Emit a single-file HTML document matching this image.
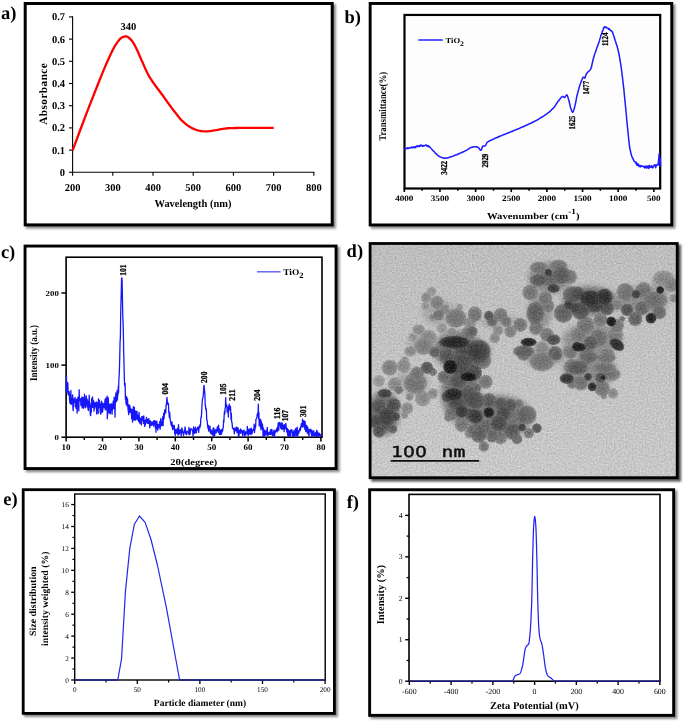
<!DOCTYPE html>
<html><head><meta charset="utf-8"><title>TiO2 characterization</title>
<style>html,body{margin:0;padding:0;background:#fff;overflow:hidden}svg{display:block}</style>
</head><body>
<svg width="685" height="724" viewBox="0 0 685 724" font-family="'Liberation Serif', serif" text-rendering="geometricPrecision">
<defs>
<filter id="sh" x="-5%" y="-5%" width="112%" height="112%"><feGaussianBlur stdDeviation="1.3"/></filter>
<filter id="soft" x="-2%" y="-2%" width="104%" height="104%"><feGaussianBlur stdDeviation="0.35"/></filter>
<filter id="gb" x="0" y="0" width="685" height="724" filterUnits="userSpaceOnUse"><feGaussianBlur stdDeviation="0.32"/></filter>
<linearGradient id="tembg" x1="0" y1="0" x2="0" y2="1"><stop offset="0" stop-color="#bdbdbd"/><stop offset="1" stop-color="#c8c8c8"/></linearGradient>
<filter id="grain" x="0" y="0" width="100%" height="100%" color-interpolation-filters="sRGB"><feTurbulence type="fractalNoise" baseFrequency="0.62" numOctaves="3" seed="11" result="t"/><feColorMatrix in="t" type="matrix" values="1 0 0 0 0  1 0 0 0 0  1 0 0 0 0  0 0 0 0 1" result="g"/><feComposite in="SourceGraphic" in2="g" operator="arithmetic" k1="0" k2="1" k3="0.24" k4="-0.12"/></filter>
<filter id="bl" x="-5%" y="-5%" width="110%" height="110%"><feGaussianBlur stdDeviation="0.6"/></filter>
<clipPath id="cd"><rect x="369.7" y="243.1" width="307.9" height="235"/></clipPath>
<filter id="bl2" x="-5%" y="-5%" width="110%" height="110%"><feGaussianBlur stdDeviation="2.6"/></filter>
<radialGradient id="g150"><stop offset="0" stop-color="#909090"/><stop offset="0.6" stop-color="#969696" stop-opacity="0.96"/><stop offset="0.86" stop-color="#a0a0a0" stop-opacity="0.85"/><stop offset="1" stop-color="#afafaf" stop-opacity="0.25"/></radialGradient>
<radialGradient id="g140"><stop offset="0" stop-color="#868686"/><stop offset="0.6" stop-color="#8c8c8c" stop-opacity="0.96"/><stop offset="0.86" stop-color="#969696" stop-opacity="0.85"/><stop offset="1" stop-color="#a5a5a5" stop-opacity="0.25"/></radialGradient>
<radialGradient id="g130"><stop offset="0" stop-color="#7c7c7c"/><stop offset="0.6" stop-color="#828282" stop-opacity="0.96"/><stop offset="0.86" stop-color="#8c8c8c" stop-opacity="0.85"/><stop offset="1" stop-color="#9b9b9b" stop-opacity="0.25"/></radialGradient>
<radialGradient id="g120"><stop offset="0" stop-color="#727272"/><stop offset="0.6" stop-color="#787878" stop-opacity="0.96"/><stop offset="0.86" stop-color="#828282" stop-opacity="0.85"/><stop offset="1" stop-color="#919191" stop-opacity="0.25"/></radialGradient>
<radialGradient id="g110"><stop offset="0" stop-color="#686868"/><stop offset="0.6" stop-color="#6e6e6e" stop-opacity="0.96"/><stop offset="0.86" stop-color="#787878" stop-opacity="0.85"/><stop offset="1" stop-color="#878787" stop-opacity="0.25"/></radialGradient>
<radialGradient id="g100"><stop offset="0" stop-color="#5e5e5e"/><stop offset="0.6" stop-color="#646464" stop-opacity="0.96"/><stop offset="0.86" stop-color="#6e6e6e" stop-opacity="0.85"/><stop offset="1" stop-color="#7d7d7d" stop-opacity="0.25"/></radialGradient>
<radialGradient id="g90"><stop offset="0" stop-color="#545454"/><stop offset="0.6" stop-color="#5a5a5a" stop-opacity="0.96"/><stop offset="0.86" stop-color="#646464" stop-opacity="0.85"/><stop offset="1" stop-color="#737373" stop-opacity="0.25"/></radialGradient>
<radialGradient id="g80"><stop offset="0" stop-color="#4a4a4a"/><stop offset="0.6" stop-color="#505050" stop-opacity="0.96"/><stop offset="0.86" stop-color="#5a5a5a" stop-opacity="0.85"/><stop offset="1" stop-color="#696969" stop-opacity="0.25"/></radialGradient>
<radialGradient id="g70"><stop offset="0" stop-color="#404040"/><stop offset="0.6" stop-color="#464646" stop-opacity="0.96"/><stop offset="0.86" stop-color="#505050" stop-opacity="0.85"/><stop offset="1" stop-color="#5f5f5f" stop-opacity="0.25"/></radialGradient>
<radialGradient id="g60"><stop offset="0" stop-color="#363636"/><stop offset="0.6" stop-color="#3c3c3c" stop-opacity="0.96"/><stop offset="0.86" stop-color="#464646" stop-opacity="0.85"/><stop offset="1" stop-color="#555555" stop-opacity="0.25"/></radialGradient>
<radialGradient id="g50"><stop offset="0" stop-color="#2c2c2c"/><stop offset="0.6" stop-color="#323232" stop-opacity="0.96"/><stop offset="0.86" stop-color="#3c3c3c" stop-opacity="0.85"/><stop offset="1" stop-color="#4b4b4b" stop-opacity="0.25"/></radialGradient>
<radialGradient id="g40"><stop offset="0" stop-color="#222222"/><stop offset="0.6" stop-color="#282828" stop-opacity="0.96"/><stop offset="0.86" stop-color="#323232" stop-opacity="0.85"/><stop offset="1" stop-color="#414141" stop-opacity="0.25"/></radialGradient>
<radialGradient id="g30"><stop offset="0" stop-color="#181818"/><stop offset="0.6" stop-color="#1e1e1e" stop-opacity="0.96"/><stop offset="0.86" stop-color="#282828" stop-opacity="0.85"/><stop offset="1" stop-color="#373737" stop-opacity="0.25"/></radialGradient>
</defs>
<rect width="685" height="724" fill="#fff"/>
<g filter="url(#gb)">
<rect x="25.9" y="4.2" width="310" height="224.4" fill="#8a8a8a" filter="url(#sh)"/>
<rect x="25.2" y="3.5" width="307" height="221.4" fill="#fff" stroke="#000" stroke-width="3"/>
<text x="1.1" y="18.7" font-size="18.5" font-weight="bold">a)</text>
<line x1="72.6" y1="16.3" x2="72.6" y2="172.8" stroke="#000" stroke-width="1.1"/>
<line x1="72.1" y1="172.3" x2="314.3" y2="172.3" stroke="#000" stroke-width="1.1"/>
<line x1="69" y1="172.3" x2="72.6" y2="172.3" stroke="#000" stroke-width="1.1"/>
<text x="65" y="175.8" font-size="10.5" text-anchor="end" font-weight="bold">0</text>
<line x1="69" y1="150.1" x2="72.6" y2="150.1" stroke="#000" stroke-width="1.1"/>
<text x="65" y="153.6" font-size="10.5" text-anchor="end" font-weight="bold">0.1</text>
<line x1="69" y1="127.9" x2="72.6" y2="127.9" stroke="#000" stroke-width="1.1"/>
<text x="65" y="131.4" font-size="10.5" text-anchor="end" font-weight="bold">0.2</text>
<line x1="69" y1="105.7" x2="72.6" y2="105.7" stroke="#000" stroke-width="1.1"/>
<text x="65" y="109.2" font-size="10.5" text-anchor="end" font-weight="bold">0.3</text>
<line x1="69" y1="83.5" x2="72.6" y2="83.5" stroke="#000" stroke-width="1.1"/>
<text x="65" y="87" font-size="10.5" text-anchor="end" font-weight="bold">0.4</text>
<line x1="69" y1="61.3" x2="72.6" y2="61.3" stroke="#000" stroke-width="1.1"/>
<text x="65" y="64.8" font-size="10.5" text-anchor="end" font-weight="bold">0.5</text>
<line x1="69" y1="39.1" x2="72.6" y2="39.1" stroke="#000" stroke-width="1.1"/>
<text x="65" y="42.6" font-size="10.5" text-anchor="end" font-weight="bold">0.6</text>
<line x1="69" y1="16.9" x2="72.6" y2="16.9" stroke="#000" stroke-width="1.1"/>
<text x="65" y="20.4" font-size="10.5" text-anchor="end" font-weight="bold">0.7</text>
<line x1="72.6" y1="172.3" x2="72.6" y2="175.7" stroke="#000" stroke-width="1.1"/>
<text x="72.6" y="190.7" font-size="10.5" text-anchor="middle" font-weight="bold">200</text>
<line x1="112.8" y1="172.3" x2="112.8" y2="175.7" stroke="#000" stroke-width="1.1"/>
<text x="112.8" y="190.7" font-size="10.5" text-anchor="middle" font-weight="bold">300</text>
<line x1="153" y1="172.3" x2="153" y2="175.7" stroke="#000" stroke-width="1.1"/>
<text x="153" y="190.7" font-size="10.5" text-anchor="middle" font-weight="bold">400</text>
<line x1="193.2" y1="172.3" x2="193.2" y2="175.7" stroke="#000" stroke-width="1.1"/>
<text x="193.2" y="190.7" font-size="10.5" text-anchor="middle" font-weight="bold">500</text>
<line x1="233.4" y1="172.3" x2="233.4" y2="175.7" stroke="#000" stroke-width="1.1"/>
<text x="233.4" y="190.7" font-size="10.5" text-anchor="middle" font-weight="bold">600</text>
<line x1="273.6" y1="172.3" x2="273.6" y2="175.7" stroke="#000" stroke-width="1.1"/>
<text x="273.6" y="190.7" font-size="10.5" text-anchor="middle" font-weight="bold">700</text>
<line x1="313.8" y1="172.3" x2="313.8" y2="175.7" stroke="#000" stroke-width="1.1"/>
<text x="313.8" y="190.7" font-size="10.5" text-anchor="middle" font-weight="bold">800</text>
<text x="193" y="207" font-size="10.8" text-anchor="middle" font-weight="bold" textLength="77" lengthAdjust="spacingAndGlyphs">Wavelength (nm)</text>
<text x="47.4" y="94" font-size="11.2" text-anchor="middle" font-weight="bold" textLength="61.5" lengthAdjust="spacing" transform="rotate(-90 47.4 94)">Absorbance</text>
<text x="128.4" y="29.8" font-size="10.5" text-anchor="middle" font-weight="bold">340</text>
<path d="M72.7 150.3 L74.39 145.69 L76.08 141.11 L77.77 136.55 L79.46 132.02 L81.15 127.52 L82.83 123.05 L84.52 118.61 L86.21 114.2 L87.9 109.81 L89.59 105.45 L91.28 101.11 L92.97 96.81 L94.66 92.53 L96.35 88.28 L98.04 84.05 L99.73 79.79 L101.41 75.55 L103.1 71.37 L104.79 67.33 L106.48 63.48 L108.17 59.75 L109.86 56 L111.55 52.38 L113.24 48.98 L114.93 45.95 L116.62 43.4 L118.31 41.06 L119.99 39 L121.68 37.56 L123.37 36.84 L125.06 36.38 L126.75 36.42 L128.44 37.37 L130.13 38.87 L131.82 40.64 L133.51 43.18 L135.2 46.17 L136.88 49.42 L138.57 53.19 L140.26 57.18 L141.95 61.07 L143.64 64.85 L145.33 68.67 L147.02 72.31 L148.71 75.58 L150.4 78.4 L152.09 80.98 L153.78 83.43 L155.46 85.76 L157.15 88.01 L158.84 90.22 L160.53 92.46 L162.22 94.76 L163.91 97.12 L165.6 99.49 L167.29 101.87 L168.98 104.24 L170.67 106.56 L172.36 108.82 L174.04 111 L175.73 113.15 L177.42 115.32 L179.11 117.43 L180.8 119.42 L182.49 121.2 L184.18 122.72 L185.87 124.09 L187.56 125.37 L189.25 126.54 L190.94 127.57 L192.62 128.43 L194.31 129.12 L196 129.75 L197.69 130.31 L199.38 130.75 L201.07 131.05 L202.76 131.22 L204.45 131.34 L206.14 131.4 L207.83 131.34 L209.52 131.16 L211.2 130.9 L212.89 130.6 L214.58 130.3 L216.27 130.05 L217.96 129.77 L219.65 129.47 L221.34 129.16 L223.03 128.86 L224.72 128.59 L226.41 128.38 L228.09 128.23 L229.78 128.17 L231.47 128.11 L233.16 128.07 L234.85 128.02 L236.54 127.99 L238.23 127.96 L239.92 127.93 L241.61 127.91 L243.3 127.9 L244.99 127.9 L246.67 127.9 L248.36 127.9 L250.05 127.9 L251.74 127.9 L253.43 127.9 L255.12 127.9 L256.81 127.9 L258.5 127.9 L260.19 127.9 L261.88 127.9 L263.57 127.9 L265.25 127.9 L266.94 127.9 L268.63 127.9 L270.32 127.9 L272.01 127.9 L273.7 127.9" fill="none" stroke="#ff0000" stroke-width="2.3" stroke-linejoin="round" stroke-linecap="butt"/>
<rect x="370.9" y="4.2" width="304.5" height="224.4" fill="#8a8a8a" filter="url(#sh)"/>
<rect x="370.15" y="3.45" width="301.6" height="221.5" fill="#fff" stroke="#000" stroke-width="2.9"/>
<text x="344.4" y="22.7" font-size="18.5" font-weight="bold">b)</text>
<rect x="404.5" y="14.95" width="255.7" height="173.55" fill="#fdfdfd" stroke="#000" stroke-width="2.2"/>
<line x1="404.3" y1="188.5" x2="404.3" y2="192" stroke="#000" stroke-width="1.6"/>
<text x="404.3" y="200.6" font-size="8.2" text-anchor="middle" font-weight="bold" textLength="18.3" lengthAdjust="spacingAndGlyphs">4000</text>
<line x1="422.12" y1="188.5" x2="422.12" y2="190.8" stroke="#000" stroke-width="1.5"/>
<line x1="439.95" y1="188.5" x2="439.95" y2="192" stroke="#000" stroke-width="1.6"/>
<text x="439.95" y="200.6" font-size="8.2" text-anchor="middle" font-weight="bold" textLength="18.3" lengthAdjust="spacingAndGlyphs">3500</text>
<line x1="457.77" y1="188.5" x2="457.77" y2="190.8" stroke="#000" stroke-width="1.5"/>
<line x1="475.6" y1="188.5" x2="475.6" y2="192" stroke="#000" stroke-width="1.6"/>
<text x="475.6" y="200.6" font-size="8.2" text-anchor="middle" font-weight="bold" textLength="18.3" lengthAdjust="spacingAndGlyphs">3000</text>
<line x1="493.43" y1="188.5" x2="493.43" y2="190.8" stroke="#000" stroke-width="1.5"/>
<line x1="511.25" y1="188.5" x2="511.25" y2="192" stroke="#000" stroke-width="1.6"/>
<text x="511.25" y="200.6" font-size="8.2" text-anchor="middle" font-weight="bold" textLength="18.3" lengthAdjust="spacingAndGlyphs">2500</text>
<line x1="529.08" y1="188.5" x2="529.08" y2="190.8" stroke="#000" stroke-width="1.5"/>
<line x1="546.9" y1="188.5" x2="546.9" y2="192" stroke="#000" stroke-width="1.6"/>
<text x="546.9" y="200.6" font-size="8.2" text-anchor="middle" font-weight="bold" textLength="18.3" lengthAdjust="spacingAndGlyphs">2000</text>
<line x1="564.73" y1="188.5" x2="564.73" y2="190.8" stroke="#000" stroke-width="1.5"/>
<line x1="582.55" y1="188.5" x2="582.55" y2="192" stroke="#000" stroke-width="1.6"/>
<text x="582.55" y="200.6" font-size="8.2" text-anchor="middle" font-weight="bold" textLength="18.3" lengthAdjust="spacingAndGlyphs">1500</text>
<line x1="600.38" y1="188.5" x2="600.38" y2="190.8" stroke="#000" stroke-width="1.5"/>
<line x1="618.2" y1="188.5" x2="618.2" y2="192" stroke="#000" stroke-width="1.6"/>
<text x="618.2" y="200.6" font-size="8.2" text-anchor="middle" font-weight="bold" textLength="18.3" lengthAdjust="spacingAndGlyphs">1000</text>
<line x1="636.03" y1="188.5" x2="636.03" y2="190.8" stroke="#000" stroke-width="1.5"/>
<line x1="653.85" y1="188.5" x2="653.85" y2="192" stroke="#000" stroke-width="1.6"/>
<text x="653.85" y="200.6" font-size="8.2" text-anchor="middle" font-weight="bold" textLength="13.6" lengthAdjust="spacingAndGlyphs">500</text>
<text x="385.6" y="106.3" font-size="10.2" text-anchor="middle" font-weight="bold" textLength="69" lengthAdjust="spacingAndGlyphs" transform="rotate(-90 385.6 106.3)">Transmittance(%)</text>
<text x="487" y="218.6" font-size="9" font-weight="bold" textLength="92.5" lengthAdjust="spacingAndGlyphs">Wavenumber (cm<tspan dy="-4.2" font-size="7.8">-1</tspan><tspan dy="4.2">)</tspan></text>
<line x1="418.4" y1="40" x2="442.8" y2="40" stroke="#3c3cff" stroke-width="1.7"/>
<text x="445.5" y="42.9" font-size="7.7" font-weight="bold" textLength="18.5" lengthAdjust="spacingAndGlyphs">TiO<tspan dy="3" font-size="7">2</tspan></text>
<path d="M404.2 149.49 L404.69 148.65 L405.18 148.74 L405.67 148.79 L406.16 148.28 L406.65 148.47 L407.14 148.39 L407.62 147.69 L408.11 148.57 L408.6 148.34 L409.09 147.83 L409.58 147.9 L410.07 148.05 L410.56 147.7 L411.05 147.62 L411.54 147.12 L412.03 147.73 L412.52 147.5 L413.01 147.47 L413.49 146.75 L413.98 147.78 L414.47 147.17 L414.96 146.88 L415.45 147.63 L415.94 146.8 L416.43 146.2 L416.92 146.45 L417.41 145.68 L417.9 146.74 L418.39 146.12 L418.88 145.9 L419.37 146.44 L419.85 145.39 L420.34 146.07 L420.83 145.08 L421.32 145.51 L421.81 145.26 L422.3 146.15 L422.79 146.23 L423.28 145.49 L423.77 145.89 L424.26 145.54 L424.75 145.8 L425.24 145.34 L425.73 145 L426.21 144.97 L426.7 145.73 L427.19 146.39 L427.68 145.7 L428.17 145.53 L428.66 146.63 L429.15 146.41 L429.64 146.83 L430.13 147.36 L430.62 147.89 L431.11 148.47 L431.6 148.93 L432.08 149.73 L432.57 150.17 L433.06 150.79 L433.55 151.1 L434.04 151.43 L434.53 152.18 L435.02 152.93 L435.51 153.2 L436 153.66 L436.49 154.11 L436.98 154.59 L437.47 155.1 L437.96 155.36 L438.44 155.99 L438.93 156.04 L439.42 156.35 L439.91 156.77 L440.4 157.02 L440.89 157.06 L441.38 157.35 L441.87 157.6 L442.36 157.68 L442.85 157.65 L443.34 158.08 L443.83 158.21 L444.32 158.22 L444.8 158.09 L445.29 158.17 L445.78 158.08 L446.27 158.05 L446.76 158.15 L447.25 158.07 L447.74 157.84 L448.23 157.68 L448.72 157.55 L449.21 157.31 L449.7 157.14 L450.19 156.91 L450.67 156.82 L451.16 156.94 L451.65 156.63 L452.14 156.33 L452.63 156.15 L453.12 155.94 L453.61 155.91 L454.1 155.74 L454.59 155.33 L455.08 155.37 L455.57 155.05 L456.06 155.09 L456.55 154.74 L457.03 154.72 L457.52 154.25 L458.01 154.06 L458.5 153.92 L458.99 153.8 L459.48 153.53 L459.97 153.1 L460.46 153.06 L460.95 152.82 L461.44 152.56 L461.93 152.32 L462.42 152.4 L462.91 151.93 L463.39 151.67 L463.88 151.63 L464.37 151.33 L464.86 151.05 L465.35 150.89 L465.84 150.58 L466.33 150.28 L466.82 150.07 L467.31 149.71 L467.8 149.32 L468.29 149.07 L468.78 148.77 L469.26 148.59 L469.75 148.18 L470.24 147.85 L470.73 147.85 L471.22 147.46 L471.71 147.19 L472.2 147.3 L472.69 147.02 L473.18 147.05 L473.67 146.83 L474.16 146.7 L474.65 146.65 L475.14 146.75 L475.62 146.81 L476.11 146.81 L476.6 146.97 L477.09 146.94 L477.58 147.27 L478.07 147.21 L478.56 147.63 L479.05 148.32 L479.54 149.12 L480.03 149.93 L480.52 150.02 L481.01 150.28 L481.5 149.42 L481.98 148.02 L482.47 146.54 L482.96 146.13 L483.45 146.18 L483.94 145.7 L484.43 145.89 L484.92 145.89 L485.41 145.55 L485.9 145.12 L486.39 143.68 L486.88 142.73 L487.37 142.26 L487.85 141.97 L488.34 141.58 L488.83 141.38 L489.32 140.87 L489.81 140.7 L490.3 140.6 L490.79 140.33 L491.28 139.9 L491.77 139.94 L492.26 139.6 L492.75 139.49 L493.24 139.26 L493.73 139.14 L494.21 138.77 L494.7 138.3 L495.19 138.13 L495.68 138.16 L496.17 137.82 L496.66 137.77 L497.15 137.46 L497.64 137.12 L498.13 137.13 L498.62 136.7 L499.11 136.35 L499.6 136.64 L500.09 135.96 L500.57 136.07 L501.06 135.91 L501.55 135.62 L502.04 135.2 L502.53 135.33 L503.02 134.84 L503.51 134.66 L504 134.58 L504.49 134.52 L504.98 134.27 L505.47 134.13 L505.96 133.78 L506.44 133.62 L506.93 133.3 L507.42 133.19 L507.91 133.1 L508.4 132.79 L508.89 132.68 L509.38 132.35 L509.87 132.15 L510.36 132.02 L510.85 131.8 L511.34 131.69 L511.83 131.44 L512.32 131.43 L512.8 131 L513.29 130.8 L513.78 130.5 L514.27 130.43 L514.76 130.31 L515.25 129.94 L515.74 129.82 L516.23 129.71 L516.72 129.41 L517.21 129.16 L517.7 129.14 L518.19 128.83 L518.68 128.66 L519.16 128.54 L519.65 128.33 L520.14 127.95 L520.63 127.71 L521.12 127.6 L521.61 127.34 L522.1 126.91 L522.59 127.08 L523.08 126.71 L523.57 126.58 L524.06 126.14 L524.55 126.22 L525.03 125.78 L525.52 125.62 L526.01 125.25 L526.5 125.18 L526.99 124.95 L527.48 124.73 L527.97 124.58 L528.46 124.31 L528.95 124.19 L529.44 123.79 L529.93 123.5 L530.42 123.38 L530.91 123.22 L531.39 123.06 L531.88 122.76 L532.37 122.21 L532.86 122.22 L533.35 122.1 L533.84 121.68 L534.33 121.35 L534.82 121.2 L535.31 120.85 L535.8 120.73 L536.29 120.39 L536.78 120.3 L537.27 119.92 L537.75 119.51 L538.24 119.4 L538.73 119.17 L539.22 118.71 L539.71 118.44 L540.2 117.93 L540.69 118.03 L541.18 117.56 L541.67 117.07 L542.16 116.81 L542.65 116.68 L543.14 116.49 L543.62 116.06 L544.11 115.8 L544.6 115.27 L545.09 114.9 L545.58 114.82 L546.07 114.42 L546.56 114 L547.05 113.79 L547.54 113.15 L548.03 112.83 L548.52 112.62 L549.01 112.32 L549.5 111.69 L549.98 111.47 L550.47 110.76 L550.96 110.43 L551.45 109.91 L551.94 109.27 L552.43 109.01 L552.92 108.59 L553.41 107.95 L553.9 107.43 L554.39 107.05 L554.88 106.1 L555.37 105.37 L555.86 104.72 L556.34 103.87 L556.83 103.39 L557.32 102.5 L557.81 101.63 L558.3 100.99 L558.79 100.82 L559.28 99.78 L559.77 99.12 L560.26 98.61 L560.75 98.05 L561.24 97.47 L561.73 96.89 L562.21 96.54 L562.7 96.59 L563.19 96.59 L563.68 96.84 L564.17 97.58 L564.66 97.51 L565.15 96.89 L565.64 96.16 L566.13 95.51 L566.62 94.96 L567.11 95.05 L567.6 96.31 L568.09 97.64 L568.57 99.47 L569.06 100.97 L569.55 103.23 L570.04 105.44 L570.53 107.74 L571.02 109.06 L571.51 110.34 L572 111.64 L572.49 112.24 L572.98 112 L573.47 110.96 L573.96 109.42 L574.45 107.92 L574.93 105.71 L575.42 103.84 L575.91 101.3 L576.4 98.55 L576.89 95.95 L577.38 94.18 L577.87 92.32 L578.36 90.2 L578.85 88.71 L579.34 86.98 L579.83 85.32 L580.32 84.01 L580.8 82.71 L581.29 81.29 L581.78 80.05 L582.27 78.7 L582.76 77.68 L583.25 77.19 L583.74 77.3 L584.23 77.89 L584.72 78.13 L585.21 77.51 L585.7 75.4 L586.19 74.14 L586.68 73.62 L587.16 72.85 L587.65 72.24 L588.14 71.78 L588.63 71.65 L589.12 70.99 L589.61 70.48 L590.1 69.94 L590.59 69.13 L591.08 68.19 L591.57 66.58 L592.06 64.21 L592.55 62.04 L593.04 59.94 L593.52 58.04 L594.01 56.46 L594.5 54.84 L594.99 53.38 L595.48 52.02 L595.97 50.42 L596.46 49.05 L596.95 47.22 L597.44 46.74 L597.93 45.01 L598.42 43.72 L598.91 42.59 L599.39 40.88 L599.88 38.92 L600.37 37.66 L600.86 35.37 L601.35 34.58 L601.84 33.12 L602.33 31.22 L602.82 30.84 L603.31 28.73 L603.8 28.03 L604.29 26.9 L604.78 27.26 L605.27 27.46 L605.75 26.9 L606.24 26.9 L606.73 27.65 L607.22 28.27 L607.71 28.17 L608.2 28.47 L608.69 29.29 L609.18 28.58 L609.67 29.72 L610.16 29.82 L610.65 30.73 L611.14 30.71 L611.63 31 L612.11 31.79 L612.6 32.25 L613.09 33.97 L613.58 35.18 L614.07 36.83 L614.56 38.23 L615.05 40.25 L615.54 41.35 L616.03 42.94 L616.52 44.49 L617.01 45.97 L617.5 47.89 L617.98 49.75 L618.47 51.79 L618.96 54.01 L619.45 56.55 L619.94 59.47 L620.43 62.61 L620.92 65.39 L621.41 69 L621.9 72.66 L622.39 76.8 L622.88 80.94 L623.37 85.31 L623.86 89.39 L624.34 94.45 L624.83 99.37 L625.32 104.5 L625.81 109.44 L626.3 114.55 L626.79 119.97 L627.28 125.36 L627.77 129.83 L628.26 134.8 L628.75 139.48 L629.24 143.87 L629.73 147.56 L630.22 150.08 L630.7 152.28 L631.19 154.32 L631.68 155.94 L632.17 157.15 L632.66 158.15 L633.15 159.25 L633.64 160.09 L634.13 161.41 L634.62 161.73 L635.11 161.69 L635.6 162.97 L636.09 162.22 L636.57 164.48 L637.06 165.23 L637.55 163.5 L638.04 165.29 L638.53 164.32 L639.02 166.42 L639.51 166.45 L640 165.59 L640.49 166.85 L640.98 165.71 L641.47 165.66 L641.96 165.86 L642.45 166.37 L642.93 166.33 L643.42 166.86 L643.91 166.26 L644.4 167.59 L644.89 167.89 L645.38 166.58 L645.87 165.78 L646.36 167.74 L646.85 168.12 L647.34 166.95 L647.83 165.93 L648.32 167.32 L648.81 168.43 L649.29 165.35 L649.78 167.44 L650.27 166.7 L650.76 166.18 L651.25 167.36 L651.74 165.7 L652.23 167.09 L652.72 167.96 L653.21 166.88 L653.7 165.88 L654.19 165.01 L654.68 165.39 L655.16 164.78 L655.65 167.75 L656.14 165.93 L656.63 165.04 L657.12 164.62 L657.61 164.64 L658.1 165.1 L658.6 160 L659.2 153.7 L659.7 166 L660.2 158 L660.6 166.6" fill="none" stroke="#1a1aff" stroke-width="1.5" stroke-linejoin="round"/>
<text x="446.9" y="174.7" font-size="9" font-weight="bold" textLength="13.7" lengthAdjust="spacingAndGlyphs" transform="rotate(-90 446.9 174.7)" stroke="#000" stroke-width="0.3">3422</text>
<text x="488.2" y="167.4" font-size="9" font-weight="bold" textLength="13.7" lengthAdjust="spacingAndGlyphs" transform="rotate(-90 488.2 167.4)" stroke="#000" stroke-width="0.3">2929</text>
<text x="575.2" y="129.4" font-size="9" font-weight="bold" textLength="13.7" lengthAdjust="spacingAndGlyphs" transform="rotate(-90 575.2 129.4)" stroke="#000" stroke-width="0.3">1625</text>
<text x="589" y="94.6" font-size="9" font-weight="bold" textLength="13.7" lengthAdjust="spacingAndGlyphs" transform="rotate(-90 589 94.6)" stroke="#000" stroke-width="0.3">1477</text>
<text x="608" y="46.1" font-size="9" font-weight="bold" textLength="13.7" lengthAdjust="spacingAndGlyphs" transform="rotate(-90 608 46.1)" stroke="#000" stroke-width="0.3">1124</text>
<rect x="25.8" y="246.8" width="313.9" height="225.4" fill="#8a8a8a" filter="url(#sh)"/>
<rect x="25.05" y="246.05" width="311" height="222.5" fill="#fff" stroke="#000" stroke-width="2.9"/>
<text x="0.9" y="258.1" font-size="18.5" font-weight="bold">c)</text>
<rect x="66.1" y="257.2" width="255.9" height="180" fill="#fff" stroke="#000" stroke-width="1.6"/>
<line x1="66.1" y1="437.2" x2="66.1" y2="441.4" stroke="#000" stroke-width="1.5"/>
<text x="66.1" y="449.8" font-size="8.6" text-anchor="middle" font-weight="bold" textLength="9" lengthAdjust="spacingAndGlyphs">10</text>
<line x1="84.3" y1="437.2" x2="84.3" y2="440" stroke="#000" stroke-width="1.4"/>
<line x1="102.5" y1="437.2" x2="102.5" y2="441.4" stroke="#000" stroke-width="1.5"/>
<text x="102.5" y="449.8" font-size="8.6" text-anchor="middle" font-weight="bold" textLength="9" lengthAdjust="spacingAndGlyphs">20</text>
<line x1="120.7" y1="437.2" x2="120.7" y2="440" stroke="#000" stroke-width="1.4"/>
<line x1="138.9" y1="437.2" x2="138.9" y2="441.4" stroke="#000" stroke-width="1.5"/>
<text x="138.9" y="449.8" font-size="8.6" text-anchor="middle" font-weight="bold" textLength="9" lengthAdjust="spacingAndGlyphs">30</text>
<line x1="157.1" y1="437.2" x2="157.1" y2="440" stroke="#000" stroke-width="1.4"/>
<line x1="175.3" y1="437.2" x2="175.3" y2="441.4" stroke="#000" stroke-width="1.5"/>
<text x="175.3" y="449.8" font-size="8.6" text-anchor="middle" font-weight="bold" textLength="9" lengthAdjust="spacingAndGlyphs">40</text>
<line x1="193.5" y1="437.2" x2="193.5" y2="440" stroke="#000" stroke-width="1.4"/>
<line x1="211.7" y1="437.2" x2="211.7" y2="441.4" stroke="#000" stroke-width="1.5"/>
<text x="211.7" y="449.8" font-size="8.6" text-anchor="middle" font-weight="bold" textLength="9" lengthAdjust="spacingAndGlyphs">50</text>
<line x1="229.9" y1="437.2" x2="229.9" y2="440" stroke="#000" stroke-width="1.4"/>
<line x1="248.1" y1="437.2" x2="248.1" y2="441.4" stroke="#000" stroke-width="1.5"/>
<text x="248.1" y="449.8" font-size="8.6" text-anchor="middle" font-weight="bold" textLength="9" lengthAdjust="spacingAndGlyphs">60</text>
<line x1="266.3" y1="437.2" x2="266.3" y2="440" stroke="#000" stroke-width="1.4"/>
<line x1="284.5" y1="437.2" x2="284.5" y2="441.4" stroke="#000" stroke-width="1.5"/>
<text x="284.5" y="449.8" font-size="8.6" text-anchor="middle" font-weight="bold" textLength="9" lengthAdjust="spacingAndGlyphs">70</text>
<line x1="302.7" y1="437.2" x2="302.7" y2="440" stroke="#000" stroke-width="1.4"/>
<line x1="320.9" y1="437.2" x2="320.9" y2="441.4" stroke="#000" stroke-width="1.5"/>
<text x="320.9" y="449.8" font-size="8.6" text-anchor="middle" font-weight="bold" textLength="9" lengthAdjust="spacingAndGlyphs">80</text>
<line x1="61.4" y1="437.2" x2="66.1" y2="437.2" stroke="#000" stroke-width="1.5"/>
<text x="58.9" y="439.9" font-size="7.7" text-anchor="end" font-weight="bold" textLength="4.4" lengthAdjust="spacingAndGlyphs">0</text>
<line x1="61.4" y1="365.1" x2="66.1" y2="365.1" stroke="#000" stroke-width="1.5"/>
<text x="58.9" y="367.8" font-size="7.7" text-anchor="end" font-weight="bold" textLength="13.3" lengthAdjust="spacingAndGlyphs">100</text>
<line x1="61.4" y1="293" x2="66.1" y2="293" stroke="#000" stroke-width="1.5"/>
<text x="58.9" y="295.7" font-size="7.7" text-anchor="end" font-weight="bold" textLength="13.3" lengthAdjust="spacingAndGlyphs">200</text>
<text x="37.3" y="352.9" font-size="10.2" text-anchor="middle" font-weight="bold" textLength="56" lengthAdjust="spacingAndGlyphs" transform="rotate(-90 37.3 352.9)">Intensity (a.u.)</text>
<text x="193.8" y="464.7" font-size="8.8" text-anchor="middle" font-weight="bold" textLength="47" lengthAdjust="spacingAndGlyphs">2θ(degree)</text>
<line x1="257" y1="271.8" x2="280.6" y2="271.8" stroke="#5c5cff" stroke-width="1.4"/>
<text x="283.2" y="275.2" font-size="8.9" font-weight="bold" textLength="20.3" lengthAdjust="spacingAndGlyphs">TiO<tspan dy="3.1" font-size="8">2</tspan></text>
<path d="M66.1 390.57 L66.4 376.13 L66.69 390.67 L66.99 392.17 L67.29 387.48 L67.58 382.41 L67.88 384.11 L68.18 394.84 L68.47 391.68 L68.77 393.05 L69.07 391.71 L69.36 393.87 L69.66 400.97 L69.96 403.25 L70.25 396.01 L70.55 403.84 L70.85 390.52 L71.14 398.09 L71.44 404.23 L71.74 400.78 L72.03 402.11 L72.33 400.39 L72.63 394.85 L72.92 408.04 L73.22 410.57 L73.52 398.88 L73.81 401.88 L74.11 400.24 L74.41 398.91 L74.7 402.47 L75 397.33 L75.3 406.65 L75.59 401.62 L75.89 406.6 L76.19 408.35 L76.48 399.04 L76.78 399.41 L77.08 413.11 L77.37 408.78 L77.67 401.24 L77.96 397.14 L78.26 406.62 L78.56 404.11 L78.85 410.85 L79.15 389.72 L79.45 400.81 L79.74 398.62 L80.04 399.98 L80.34 398.57 L80.63 400.4 L80.93 405.58 L81.23 399.81 L81.52 403.48 L81.82 396.96 L82.12 408.02 L82.41 407.03 L82.71 400.59 L83.01 397.31 L83.3 403.51 L83.6 408.21 L83.9 405.06 L84.19 407.17 L84.49 394.27 L84.79 399.73 L85.08 397.81 L85.38 403.07 L85.68 407.76 L85.97 398.47 L86.27 395.92 L86.57 401.77 L86.86 405.1 L87.16 399.18 L87.46 407.08 L87.75 400.99 L88.05 409.02 L88.35 410.47 L88.64 402.21 L88.94 403.5 L89.24 395.08 L89.53 406.94 L89.83 405.34 L90.13 411.68 L90.42 415.67 L90.72 415.24 L91.02 403.15 L91.31 412.06 L91.61 399.65 L91.91 398.1 L92.2 407.37 L92.5 396.9 L92.8 404.69 L93.09 399.87 L93.39 407.22 L93.69 400.85 L93.98 411.18 L94.28 402.75 L94.58 408.64 L94.87 406.9 L95.17 402.81 L95.47 405.33 L95.76 406.7 L96.06 402.4 L96.36 402.03 L96.65 413.89 L96.95 403.41 L97.25 402.84 L97.54 410.56 L97.84 404.44 L98.14 413.72 L98.43 398.8 L98.73 407.9 L99.03 407.06 L99.32 400.19 L99.62 407.46 L99.92 403.47 L100.21 412.39 L100.51 409.83 L100.81 414.29 L101.1 407.91 L101.4 401.22 L101.69 405.6 L101.99 402.04 L102.29 412.38 L102.58 411.61 L102.88 409.36 L103.18 403.75 L103.47 404.92 L103.77 406.93 L104.07 403.47 L104.36 407.65 L104.66 406.94 L104.96 399.75 L105.25 409.96 L105.55 405.78 L105.85 398.03 L106.14 406.17 L106.44 402.87 L106.74 409.93 L107.03 396.03 L107.33 418.73 L107.63 412.64 L107.92 412.15 L108.22 397.63 L108.52 404.41 L108.81 407.65 L109.11 413.08 L109.41 404.08 L109.7 405.33 L110 409.58 L110.3 413.77 L110.59 411.53 L110.89 404.26 L111.19 403.57 L111.48 404.67 L111.78 405.69 L112.08 414.22 L112.37 404.15 L112.67 409.74 L112.97 403.65 L113.26 401.05 L113.56 406.88 L113.86 408.38 L114.15 397.06 L114.45 400.09 L114.75 404.94 L115.04 417.17 L115.34 400.61 L115.64 396.28 L115.93 392.88 L116.23 401.8 L116.53 400.7 L116.82 398.59 L117.12 390.5 L117.42 400.02 L117.71 392.65 L118.01 395.04 L118.31 386.02 L118.6 392.54 L118.9 378.3 L119.2 375.75 L119.49 367.18 L119.79 354.87 L120.09 341.06 L120.38 338.49 L120.68 314.08 L120.98 301.6 L121.27 292.63 L121.57 278.36 L121.87 277.86 L122.16 282.38 L122.46 300.05 L122.76 314.78 L123.05 321.62 L123.35 332.25 L123.65 350.69 L123.94 360.51 L124.24 374.41 L124.53 384.52 L124.83 385.74 L125.13 383.37 L125.42 399.14 L125.72 396.52 L126.02 403.88 L126.31 398.02 L126.61 396.63 L126.91 405.89 L127.2 403.95 L127.5 398.53 L127.8 404.82 L128.09 410.04 L128.39 411.17 L128.69 414.57 L128.98 404.84 L129.28 411.21 L129.58 405.1 L129.87 406.37 L130.17 412.64 L130.47 412.66 L130.76 408.25 L131.06 411.06 L131.36 411.04 L131.65 418.63 L131.95 409.47 L132.25 416.48 L132.54 422.05 L132.84 416.19 L133.14 412.6 L133.43 406.62 L133.73 416.16 L134.03 420.02 L134.32 407.34 L134.62 414.95 L134.92 416.77 L135.21 420.05 L135.51 420 L135.81 410.9 L136.1 417.67 L136.4 418.87 L136.7 418.95 L136.99 411.35 L137.29 419.61 L137.59 415.22 L137.88 416.74 L138.18 417.01 L138.48 421.35 L138.77 415.74 L139.07 412.33 L139.37 418.7 L139.66 422.09 L139.96 423.62 L140.26 418.2 L140.55 420.06 L140.85 419.56 L141.15 419.25 L141.44 424.94 L141.74 416.6 L142.04 418.77 L142.33 420.04 L142.63 419 L142.93 416.51 L143.22 419.88 L143.52 423.38 L143.82 415.92 L144.11 422.02 L144.41 423.21 L144.71 426.45 L145 420.66 L145.3 424.71 L145.6 422.83 L145.89 419.29 L146.19 420.94 L146.49 417.35 L146.78 420.11 L147.08 422.86 L147.37 422.67 L147.67 423.42 L147.97 419.19 L148.26 421.62 L148.56 423.33 L148.86 418.71 L149.15 421.6 L149.45 423.8 L149.75 427.81 L150.04 420.59 L150.34 421.43 L150.64 422.22 L150.93 424.13 L151.23 425.71 L151.53 423.53 L151.82 421.91 L152.12 423.34 L152.42 423.5 L152.71 424.81 L153.01 421.88 L153.31 422.37 L153.6 426.16 L153.9 420.58 L154.2 420.56 L154.49 420.58 L154.79 424.22 L155.09 424.55 L155.38 428.27 L155.68 421.2 L155.98 432.13 L156.27 425.69 L156.57 425.59 L156.87 421.2 L157.16 424.51 L157.46 428.21 L157.76 430.03 L158.05 427.5 L158.35 424.44 L158.65 424.7 L158.94 425.7 L159.24 427.57 L159.54 425.81 L159.83 421.29 L160.13 429.12 L160.43 424.8 L160.72 418.75 L161.02 423.13 L161.32 425.67 L161.61 422.29 L161.91 425.76 L162.21 423.17 L162.5 418.31 L162.8 416.62 L163.1 425.6 L163.39 417.97 L163.69 413.36 L163.99 418.87 L164.28 415.21 L164.58 410.21 L164.88 414.03 L165.17 409.72 L165.47 409.4 L165.77 412.85 L166.06 405.1 L166.36 405.23 L166.66 401.17 L166.95 397.34 L167.25 401 L167.55 404.15 L167.84 402.64 L168.14 404.44 L168.44 403.64 L168.73 412.07 L169.03 413.17 L169.33 417.5 L169.62 412.17 L169.92 415.78 L170.22 419.29 L170.51 421.23 L170.81 422.39 L171.1 424.8 L171.4 424.44 L171.7 426.06 L171.99 421.9 L172.29 425.7 L172.59 429.58 L172.88 429.58 L173.18 425.25 L173.48 427.76 L173.77 428.59 L174.07 427.76 L174.37 425.67 L174.66 433.6 L174.96 432.52 L175.26 435.43 L175.55 429.48 L175.85 432.02 L176.15 432.95 L176.44 433.32 L176.74 429.45 L177.04 431.84 L177.33 433 L177.63 428.2 L177.93 434.56 L178.22 435.2 L178.52 424.67 L178.82 432.82 L179.11 433.34 L179.41 433.87 L179.71 432.28 L180 429.79 L180.3 429.9 L180.6 430.5 L180.89 432.77 L181.19 436.11 L181.49 431.27 L181.78 427.9 L182.08 429.15 L182.38 432.56 L182.67 429.91 L182.97 433.18 L183.27 432.28 L183.56 435.53 L183.86 433.02 L184.16 431.78 L184.45 432.63 L184.75 430.07 L185.05 427.02 L185.34 428.56 L185.64 433.03 L185.94 434.2 L186.23 433.98 L186.53 434.87 L186.83 432.1 L187.12 431.04 L187.42 431.69 L187.72 431.66 L188.01 431.75 L188.31 432.54 L188.61 434.21 L188.9 427.44 L189.2 429.29 L189.5 434.64 L189.79 434.62 L190.09 433.73 L190.39 432.02 L190.68 428.65 L190.98 429.3 L191.28 429.14 L191.57 429.06 L191.87 428.99 L192.17 429.97 L192.46 430.72 L192.76 432.26 L193.06 436.12 L193.35 432.22 L193.65 426.88 L193.94 433.26 L194.24 433.44 L194.54 428.89 L194.83 431.39 L195.13 432.86 L195.43 427.21 L195.72 429.68 L196.02 429.22 L196.32 432.74 L196.61 429.71 L196.91 429.9 L197.21 428.64 L197.5 427.43 L197.8 427.26 L198.1 429.58 L198.39 427.79 L198.69 432.35 L198.99 426.85 L199.28 425.99 L199.58 427.97 L199.88 427.83 L200.17 424.39 L200.47 425.76 L200.77 419.36 L201.06 416.98 L201.36 417.54 L201.66 411.64 L201.95 405.42 L202.25 401.88 L202.55 398.47 L202.84 398.31 L203.14 395.96 L203.44 393.99 L203.73 386.73 L204.03 385.39 L204.33 389.16 L204.62 390.82 L204.92 394.37 L205.22 405.84 L205.51 405.53 L205.81 409.72 L206.11 408.52 L206.4 410.47 L206.7 419.75 L207 420.31 L207.29 421.01 L207.59 425.65 L207.89 427.5 L208.18 428.81 L208.48 425.47 L208.78 431.13 L209.07 426.12 L209.37 429.45 L209.67 427.99 L209.96 426.1 L210.26 432.4 L210.56 432.99 L210.85 429.74 L211.15 433.87 L211.45 433.16 L211.74 431.57 L212.04 430.91 L212.34 434.82 L212.63 432.53 L212.93 429.95 L213.23 427.91 L213.52 436.12 L213.82 428.1 L214.12 429.29 L214.41 434.7 L214.71 435.77 L215.01 430.63 L215.3 432.93 L215.6 431.42 L215.9 429.44 L216.19 432.81 L216.49 431.34 L216.78 430.48 L217.08 429.33 L217.38 426.93 L217.67 427.07 L217.97 431.02 L218.27 432.28 L218.56 425.11 L218.86 429.78 L219.16 430.3 L219.45 434.39 L219.75 429.17 L220.05 433.3 L220.34 432.29 L220.64 434.52 L220.94 432.08 L221.23 430.21 L221.53 434.11 L221.83 431.97 L222.12 429.09 L222.42 431.46 L222.72 430.32 L223.01 427.76 L223.31 427.58 L223.61 419.98 L223.9 421.95 L224.2 414.46 L224.5 411.2 L224.79 414.18 L225.09 408.27 L225.39 407.71 L225.68 397.54 L225.98 405.92 L226.28 406.24 L226.57 404.75 L226.87 405.19 L227.17 412.2 L227.46 411.23 L227.76 409.2 L228.06 407.5 L228.35 417.06 L228.65 406.26 L228.95 409.42 L229.24 404.04 L229.54 408.91 L229.84 410.01 L230.13 408.18 L230.43 406.25 L230.73 410.98 L231.02 419.47 L231.32 413.29 L231.62 421.75 L231.91 422.15 L232.21 424.63 L232.51 428.29 L232.8 428.28 L233.1 428.92 L233.4 429.05 L233.69 428.47 L233.99 430.01 L234.29 433.77 L234.58 430.7 L234.88 427.93 L235.18 428.3 L235.47 430.77 L235.77 429.64 L236.07 429.05 L236.36 427.9 L236.66 427.09 L236.96 432.72 L237.25 432.67 L237.55 427.96 L237.85 427.79 L238.14 427.9 L238.44 436.12 L238.74 432.83 L239.03 436.12 L239.33 430.31 L239.63 432.19 L239.92 432.24 L240.22 432.79 L240.51 428.87 L240.81 433.26 L241.11 429.65 L241.4 430.99 L241.7 431.54 L242 431.27 L242.29 432.25 L242.59 435.56 L242.89 430.62 L243.18 430.63 L243.48 432.99 L243.78 430.6 L244.07 430.14 L244.37 436.12 L244.67 433 L244.96 433.83 L245.26 435.09 L245.56 431.73 L245.85 434.91 L246.15 433.79 L246.45 431.92 L246.74 431.62 L247.04 431.69 L247.34 426.43 L247.63 433.92 L247.93 431.83 L248.23 435.8 L248.52 431.15 L248.82 429.28 L249.12 429.08 L249.41 434.11 L249.71 433.09 L250.01 428.82 L250.3 432.47 L250.6 429.52 L250.9 434.72 L251.19 428.17 L251.49 429.01 L251.79 430.4 L252.08 433.67 L252.38 431.67 L252.68 430.52 L252.97 429.84 L253.27 430.39 L253.57 430.15 L253.86 428.36 L254.16 424.27 L254.46 432.68 L254.75 429.88 L255.05 429.17 L255.35 425.52 L255.64 427 L255.94 419.24 L256.24 418.99 L256.53 418.49 L256.83 418.3 L257.13 414.84 L257.42 413.9 L257.72 412.98 L258.02 415.79 L258.31 404.03 L258.61 418.91 L258.91 412.52 L259.2 425.67 L259.5 420.31 L259.8 423.48 L260.09 419.52 L260.39 427.19 L260.69 419.49 L260.98 429.95 L261.28 421.27 L261.58 426.58 L261.87 428.58 L262.17 428.19 L262.47 423.98 L262.76 428.04 L263.06 436.12 L263.35 427.96 L263.65 430.87 L263.95 436.12 L264.24 429.82 L264.54 435.37 L264.84 431.67 L265.13 431.63 L265.43 434.12 L265.73 430.64 L266.02 435.28 L266.32 432.01 L266.62 434.08 L266.91 433.12 L267.21 427.39 L267.51 432.38 L267.8 435.69 L268.1 433.06 L268.4 434.87 L268.69 432.71 L268.99 432.36 L269.29 432.58 L269.58 432.6 L269.88 434.33 L270.18 431.62 L270.47 429.96 L270.77 434.56 L271.07 433.02 L271.36 432.7 L271.66 429.43 L271.96 429.9 L272.25 434.85 L272.55 432.64 L272.85 436.12 L273.14 435.45 L273.44 432.74 L273.74 431.02 L274.03 430.09 L274.33 433.5 L274.63 436.12 L274.92 431.39 L275.22 432.83 L275.52 431.03 L275.81 431.55 L276.11 429.77 L276.41 429.63 L276.7 428.73 L277 431.85 L277.3 427.35 L277.59 430.88 L277.89 428.64 L278.19 423.11 L278.48 426.57 L278.78 430.11 L279.08 422.29 L279.37 423.22 L279.67 422.6 L279.97 425.15 L280.26 424.9 L280.56 426.79 L280.86 428.47 L281.15 422.79 L281.45 428.4 L281.75 429.06 L282.04 429.22 L282.34 423.06 L282.64 425.8 L282.93 429.15 L283.23 428.11 L283.53 426.36 L283.82 425.09 L284.12 431.68 L284.42 424.62 L284.71 427.63 L285.01 429 L285.31 428.44 L285.6 425.57 L285.9 423.39 L286.19 428.33 L286.49 427.76 L286.79 432.06 L287.08 428.99 L287.38 428.55 L287.68 435.29 L287.97 432.98 L288.27 429.71 L288.57 436.12 L288.86 433.36 L289.16 430.85 L289.46 436.12 L289.75 433.82 L290.05 432.66 L290.35 430.43 L290.64 436.12 L290.94 429.92 L291.24 432.15 L291.53 429.73 L291.83 429.84 L292.13 432.11 L292.42 431.72 L292.72 436.12 L293.02 436.12 L293.31 435.82 L293.61 434.02 L293.91 430.51 L294.2 436.12 L294.5 433.92 L294.8 436.12 L295.09 436.12 L295.39 428.95 L295.69 432.7 L295.98 428.46 L296.28 429.65 L296.58 435.37 L296.87 436.12 L297.17 427.03 L297.47 433.71 L297.76 435.61 L298.06 430.42 L298.36 431.74 L298.65 433.7 L298.95 432.51 L299.25 430.76 L299.54 430.56 L299.84 428.18 L300.14 430.63 L300.43 429.93 L300.73 426.61 L301.03 426.59 L301.32 423.59 L301.62 426.39 L301.92 425.09 L302.21 427.16 L302.51 419.15 L302.81 426.48 L303.1 421.72 L303.4 424.57 L303.7 421.31 L303.99 420.55 L304.29 427.64 L304.59 424.45 L304.88 429.52 L305.18 421.74 L305.48 427.69 L305.77 431.67 L306.07 430.1 L306.37 425.35 L306.66 425.56 L306.96 426.77 L307.26 432.94 L307.55 431.67 L307.85 427.16 L308.15 433.96 L308.44 433.14 L308.74 435.06 L309.04 435.81 L309.33 429.46 L309.63 431.16 L309.92 431.75 L310.22 431.47 L310.52 430.33 L310.81 429.04 L311.11 433.25 L311.41 434.21 L311.7 436.11 L312 430.38 L312.3 434.78 L312.59 436.12 L312.89 434.16 L313.19 433.38 L313.48 431.19 L313.78 430.74 L314.08 435.51 L314.37 435.71 L314.67 434.44 L314.97 436.12 L315.26 433.87 L315.56 432.32 L315.86 433.48 L316.15 436.12 L316.45 436.12 L316.75 430.11 L317.04 436.12 L317.34 431.63 L317.64 431.93 L317.93 434.55 L318.23 436.12 L318.53 433.11 L318.82 436.12 L319.12 434.18 L319.42 433.42 L319.71 435.68 L320.01 434.34 L320.31 434.57 L320.6 436.12 L320.9 434.26" fill="none" stroke="#1818f8" stroke-width="1.3" stroke-linejoin="round"/>
<text x="126.3" y="275.8" font-size="9" font-weight="bold" textLength="11.3" lengthAdjust="spacingAndGlyphs" transform="rotate(-90 126.3 275.8)" stroke="#000" stroke-width="0.3">101</text>
<text x="168.2" y="394.4" font-size="9" font-weight="bold" textLength="11.3" lengthAdjust="spacingAndGlyphs" transform="rotate(-90 168.2 394.4)" stroke="#000" stroke-width="0.3">004</text>
<text x="207.3" y="382.9" font-size="9" font-weight="bold" textLength="11.3" lengthAdjust="spacingAndGlyphs" transform="rotate(-90 207.3 382.9)" stroke="#000" stroke-width="0.3">200</text>
<text x="225.6" y="394.7" font-size="9" font-weight="bold" textLength="11.3" lengthAdjust="spacingAndGlyphs" transform="rotate(-90 225.6 394.7)" stroke="#000" stroke-width="0.3">105</text>
<text x="235.1" y="400.7" font-size="9" font-weight="bold" textLength="11.3" lengthAdjust="spacingAndGlyphs" transform="rotate(-90 235.1 400.7)" stroke="#000" stroke-width="0.3">211</text>
<text x="260.1" y="400.7" font-size="9" font-weight="bold" textLength="11.3" lengthAdjust="spacingAndGlyphs" transform="rotate(-90 260.1 400.7)" stroke="#000" stroke-width="0.3">204</text>
<text x="279.5" y="419" font-size="9" font-weight="bold" textLength="11.3" lengthAdjust="spacingAndGlyphs" transform="rotate(-90 279.5 419)" stroke="#000" stroke-width="0.3">116</text>
<text x="288.2" y="421.2" font-size="9" font-weight="bold" textLength="11.3" lengthAdjust="spacingAndGlyphs" transform="rotate(-90 288.2 421.2)" stroke="#000" stroke-width="0.3">107</text>
<text x="306" y="416.9" font-size="9" font-weight="bold" textLength="11.3" lengthAdjust="spacingAndGlyphs" transform="rotate(-90 306 416.9)" stroke="#000" stroke-width="0.3">301</text>
<rect x="24" y="490.5" width="314" height="226.5" fill="#8a8a8a" filter="url(#sh)"/>
<rect x="23.2" y="489.7" width="311.2" height="223.7" fill="#fff" stroke="#000" stroke-width="2.8"/>
<text x="3.3" y="504.6" font-size="18.5" font-weight="bold">e)</text>
<rect x="74.7" y="494" width="250.5" height="186" fill="#fff" stroke="#000" stroke-width="1.4"/>
<line x1="71.2" y1="680" x2="74.7" y2="680" stroke="#000" stroke-width="1.3"/>
<text x="68.8" y="682.5" font-size="7.3" text-anchor="end">0</text>
<line x1="72.4" y1="669.03" x2="74.7" y2="669.03" stroke="#000" stroke-width="1.2"/>
<line x1="71.2" y1="658.07" x2="74.7" y2="658.07" stroke="#000" stroke-width="1.3"/>
<text x="68.8" y="660.57" font-size="7.3" text-anchor="end">2</text>
<line x1="72.4" y1="647.11" x2="74.7" y2="647.11" stroke="#000" stroke-width="1.2"/>
<line x1="71.2" y1="636.14" x2="74.7" y2="636.14" stroke="#000" stroke-width="1.3"/>
<text x="68.8" y="638.64" font-size="7.3" text-anchor="end">4</text>
<line x1="72.4" y1="625.17" x2="74.7" y2="625.17" stroke="#000" stroke-width="1.2"/>
<line x1="71.2" y1="614.21" x2="74.7" y2="614.21" stroke="#000" stroke-width="1.3"/>
<text x="68.8" y="616.71" font-size="7.3" text-anchor="end">6</text>
<line x1="72.4" y1="603.25" x2="74.7" y2="603.25" stroke="#000" stroke-width="1.2"/>
<line x1="71.2" y1="592.28" x2="74.7" y2="592.28" stroke="#000" stroke-width="1.3"/>
<text x="68.8" y="594.78" font-size="7.3" text-anchor="end">8</text>
<line x1="72.4" y1="581.32" x2="74.7" y2="581.32" stroke="#000" stroke-width="1.2"/>
<line x1="71.2" y1="570.35" x2="74.7" y2="570.35" stroke="#000" stroke-width="1.3"/>
<text x="68.8" y="572.85" font-size="7.3" text-anchor="end">10</text>
<line x1="72.4" y1="559.38" x2="74.7" y2="559.38" stroke="#000" stroke-width="1.2"/>
<line x1="71.2" y1="548.42" x2="74.7" y2="548.42" stroke="#000" stroke-width="1.3"/>
<text x="68.8" y="550.92" font-size="7.3" text-anchor="end">12</text>
<line x1="72.4" y1="537.46" x2="74.7" y2="537.46" stroke="#000" stroke-width="1.2"/>
<line x1="71.2" y1="526.49" x2="74.7" y2="526.49" stroke="#000" stroke-width="1.3"/>
<text x="68.8" y="528.99" font-size="7.3" text-anchor="end">14</text>
<line x1="72.4" y1="515.52" x2="74.7" y2="515.52" stroke="#000" stroke-width="1.2"/>
<line x1="71.2" y1="504.56" x2="74.7" y2="504.56" stroke="#000" stroke-width="1.3"/>
<text x="68.8" y="507.06" font-size="7.3" text-anchor="end">16</text>
<line x1="74.7" y1="680" x2="74.7" y2="684" stroke="#000" stroke-width="1.3"/>
<text x="74.7" y="691.9" font-size="7.2" text-anchor="middle">0</text>
<line x1="106" y1="680" x2="106" y2="682.6" stroke="#000" stroke-width="1.2"/>
<line x1="137.3" y1="680" x2="137.3" y2="684" stroke="#000" stroke-width="1.3"/>
<text x="137.3" y="691.9" font-size="7.2" text-anchor="middle">50</text>
<line x1="168.6" y1="680" x2="168.6" y2="682.6" stroke="#000" stroke-width="1.2"/>
<line x1="199.9" y1="680" x2="199.9" y2="684" stroke="#000" stroke-width="1.3"/>
<text x="199.9" y="691.9" font-size="7.2" text-anchor="middle">100</text>
<line x1="231.2" y1="680" x2="231.2" y2="682.6" stroke="#000" stroke-width="1.2"/>
<line x1="262.5" y1="680" x2="262.5" y2="684" stroke="#000" stroke-width="1.3"/>
<text x="262.5" y="691.9" font-size="7.2" text-anchor="middle">150</text>
<line x1="293.8" y1="680" x2="293.8" y2="682.6" stroke="#000" stroke-width="1.2"/>
<line x1="325.1" y1="680" x2="325.1" y2="684" stroke="#000" stroke-width="1.3"/>
<text x="325.1" y="691.9" font-size="7.2" text-anchor="middle">200</text>
<text x="36.4" y="601.2" font-size="9.6" text-anchor="middle" font-weight="bold" textLength="69.6" lengthAdjust="spacingAndGlyphs" transform="rotate(-90 36.4 601.2)">Size distribution</text>
<text x="47.7" y="598.7" font-size="9.6" text-anchor="middle" font-weight="bold" textLength="94.4" lengthAdjust="spacingAndGlyphs" transform="rotate(-90 47.7 598.7)">intensity weighted (%)</text>
<text x="200" y="706.4" font-size="9.5" text-anchor="middle" font-weight="bold" textLength="92.3" lengthAdjust="spacingAndGlyphs">Particle diameter (nm)</text>
<path d="M75 680 L117.8 680 M179.6 680 L325 680" fill="none" stroke="#20209a" stroke-width="1.3"/>
<path d="M117.8 680 L121.6 658.3 L125.4 591.9 L129.8 548.4 L134.4 524.2 L139.5 516 L145.1 522.4 L151 539.5 L157.4 565 L166.3 607.2 L179.6 680" fill="none" stroke="#2626ea" stroke-width="1.2" stroke-linejoin="round"/>
<rect x="370.4" y="490.5" width="306.9" height="228.5" fill="#8a8a8a" filter="url(#sh)"/>
<rect x="369.65" y="489.75" width="304" height="225.6" fill="#fff" stroke="#000" stroke-width="2.9"/>
<text x="346.7" y="508.3" font-size="18.5" font-weight="bold">f)</text>
<rect x="409" y="494.4" width="251" height="186.8" fill="#fff" stroke="#000" stroke-width="1.6"/>
<line x1="405.2" y1="681.2" x2="409" y2="681.2" stroke="#000" stroke-width="1.4"/>
<text x="402.6" y="683.8" font-size="7.7" text-anchor="end">0</text>
<line x1="406.6" y1="660.48" x2="409" y2="660.48" stroke="#000" stroke-width="1.3"/>
<line x1="405.2" y1="639.75" x2="409" y2="639.75" stroke="#000" stroke-width="1.4"/>
<text x="402.6" y="642.35" font-size="7.7" text-anchor="end">1</text>
<line x1="406.6" y1="619.03" x2="409" y2="619.03" stroke="#000" stroke-width="1.3"/>
<line x1="405.2" y1="598.3" x2="409" y2="598.3" stroke="#000" stroke-width="1.4"/>
<text x="402.6" y="600.9" font-size="7.7" text-anchor="end">2</text>
<line x1="406.6" y1="577.58" x2="409" y2="577.58" stroke="#000" stroke-width="1.3"/>
<line x1="405.2" y1="556.85" x2="409" y2="556.85" stroke="#000" stroke-width="1.4"/>
<text x="402.6" y="559.45" font-size="7.7" text-anchor="end">3</text>
<line x1="406.6" y1="536.12" x2="409" y2="536.12" stroke="#000" stroke-width="1.3"/>
<line x1="405.2" y1="515.4" x2="409" y2="515.4" stroke="#000" stroke-width="1.4"/>
<text x="402.6" y="518" font-size="7.7" text-anchor="end">4</text>
<line x1="409.35" y1="681.2" x2="409.35" y2="685" stroke="#000" stroke-width="1.4"/>
<text x="409.35" y="693.7" font-size="7.9" text-anchor="middle">-600</text>
<line x1="430.23" y1="681.2" x2="430.23" y2="683.6" stroke="#000" stroke-width="1.3"/>
<line x1="451.1" y1="681.2" x2="451.1" y2="685" stroke="#000" stroke-width="1.4"/>
<text x="451.1" y="693.7" font-size="7.9" text-anchor="middle">-400</text>
<line x1="471.98" y1="681.2" x2="471.98" y2="683.6" stroke="#000" stroke-width="1.3"/>
<line x1="492.85" y1="681.2" x2="492.85" y2="685" stroke="#000" stroke-width="1.4"/>
<text x="492.85" y="693.7" font-size="7.9" text-anchor="middle">-200</text>
<line x1="513.73" y1="681.2" x2="513.73" y2="683.6" stroke="#000" stroke-width="1.3"/>
<line x1="534.6" y1="681.2" x2="534.6" y2="685" stroke="#000" stroke-width="1.4"/>
<text x="534.6" y="693.7" font-size="7.9" text-anchor="middle">0</text>
<line x1="555.48" y1="681.2" x2="555.48" y2="683.6" stroke="#000" stroke-width="1.3"/>
<line x1="576.35" y1="681.2" x2="576.35" y2="685" stroke="#000" stroke-width="1.4"/>
<text x="576.35" y="693.7" font-size="7.9" text-anchor="middle">200</text>
<line x1="597.23" y1="681.2" x2="597.23" y2="683.6" stroke="#000" stroke-width="1.3"/>
<line x1="618.1" y1="681.2" x2="618.1" y2="685" stroke="#000" stroke-width="1.4"/>
<text x="618.1" y="693.7" font-size="7.9" text-anchor="middle">400</text>
<line x1="638.98" y1="681.2" x2="638.98" y2="683.6" stroke="#000" stroke-width="1.3"/>
<line x1="659.85" y1="681.2" x2="659.85" y2="685" stroke="#000" stroke-width="1.4"/>
<text x="659.85" y="693.7" font-size="7.9" text-anchor="middle">600</text>
<text x="383.8" y="594.6" font-size="10.4" text-anchor="middle" font-weight="bold" textLength="59.4" lengthAdjust="spacingAndGlyphs" transform="rotate(-90 383.8 594.6)">Intensity (%)</text>
<text x="534.4" y="709.4" font-size="10.4" text-anchor="middle" font-weight="bold" textLength="88.8" lengthAdjust="spacingAndGlyphs">Zeta Potential (mV)</text>
<path d="M409.5 681.2 L512.8 681.2 M554.2 681.2 L660 681.2" fill="none" stroke="#20209a" stroke-width="1.3"/>
<path d="M512.8 681.2 L513.06 680.47 L513.32 679.73 L513.58 679.02 L513.84 678.34 L514.1 677.7 L514.36 677.12 L514.62 676.61 L514.88 676.18 L515.14 675.85 L515.4 675.62 L515.66 675.44 L515.92 675.28 L516.18 675.15 L516.45 675.03 L516.71 674.94 L516.97 674.85 L517.23 674.77 L517.49 674.7 L517.75 674.63 L518.01 674.56 L518.27 674.48 L518.53 674.39 L518.79 674.29 L519.05 674.16 L519.31 674.02 L519.57 673.85 L519.83 673.66 L520.09 673.4 L520.35 672.98 L520.61 672.44 L520.87 671.77 L521.13 671 L521.39 670.15 L521.65 669.24 L521.91 668.27 L522.17 667.27 L522.43 666.26 L522.69 665.15 L522.95 663.75 L523.22 662.12 L523.48 660.31 L523.74 658.41 L524 656.48 L524.26 654.58 L524.52 652.78 L524.78 651.15 L525.04 649.77 L525.3 648.68 L525.56 647.97 L525.82 647.42 L526.08 646.94 L526.34 646.52 L526.6 646.14 L526.86 645.81 L527.12 645.5 L527.38 645.22 L527.64 644.96 L527.9 644.77 L528.16 644.61 L528.42 644.41 L528.68 644.04 L528.94 643.05 L529.2 641.4 L529.46 639.23 L529.72 636.7 L529.98 633.95 L530.25 631.02 L530.51 627.48 L530.77 623.25 L531.03 618.32 L531.29 612.65 L531.55 606.23 L531.81 598.61 L532.07 587.05 L532.33 573.42 L532.59 560.61 L532.85 550.54 L533.11 540.98 L533.37 532.59 L533.63 526.49 L533.89 522.83 L534.15 519.73 L534.41 517.48 L534.67 516.51 L534.93 517.02 L535.19 518.68 L535.45 521.2 L535.71 524.29 L535.97 528.47 L536.23 535.6 L536.49 544.66 L536.75 554.42 L537.02 565.26 L537.28 578.34 L537.54 591.36 L537.8 601.98 L538.06 610.25 L538.32 617.68 L538.58 623.78 L538.84 628.11 L539.1 631.35 L539.36 634.05 L539.62 636.19 L539.88 637.8 L540.14 638.96 L540.4 639.88 L540.66 640.63 L540.92 641.29 L541.18 641.93 L541.44 642.62 L541.7 643.44 L541.96 644.47 L542.22 645.75 L542.48 647.23 L542.74 648.86 L543 650.57 L543.26 652.3 L543.52 654.04 L543.78 655.96 L544.05 658.02 L544.31 660.15 L544.57 662.26 L544.83 664.28 L545.09 666.12 L545.35 667.71 L545.61 669.01 L545.87 670.21 L546.13 671.34 L546.39 672.38 L546.65 673.31 L546.91 674.08 L547.17 674.68 L547.43 675.09 L547.69 675.44 L547.95 675.75 L548.21 676.02 L548.47 676.26 L548.73 676.48 L548.99 676.68 L549.25 676.87 L549.51 677.04 L549.77 677.21 L550.03 677.38 L550.29 677.56 L550.55 677.75 L550.82 677.95 L551.08 678.18 L551.34 678.42 L551.6 678.66 L551.86 678.9 L552.12 679.15 L552.38 679.4 L552.64 679.65 L552.9 679.9 L553.16 680.16 L553.42 680.42 L553.68 680.68 L553.94 680.94 L554.2 681.2" fill="none" stroke="#2424ee" stroke-width="1.25" stroke-linejoin="round"/>
<rect x="371.2" y="244.6" width="309.9" height="237" fill="#555" filter="url(#sh)"/>
<g clip-path="url(#cd)"><g filter="url(#grain)">
<rect x="368.7" y="242.1" width="309.9" height="237" fill="url(#tembg)"/>
<g filter="url(#bl2)" opacity="0.5">
<ellipse cx="550" cy="278" rx="22" ry="16" fill="#626262"/>
<ellipse cx="590" cy="301" rx="28" ry="15" fill="#484848"/>
<ellipse cx="641" cy="301" rx="27" ry="14" fill="#696969"/>
<ellipse cx="540" cy="312" rx="12" ry="18" fill="#707070"/>
<ellipse cx="592" cy="340" rx="30" ry="17" fill="#6c6c6c"/>
<ellipse cx="458" cy="350" rx="25" ry="19" fill="#3e3e3e"/>
<ellipse cx="461" cy="392" rx="20" ry="32" fill="#424242"/>
<ellipse cx="498" cy="417" rx="34" ry="22" fill="#464646"/>
<ellipse cx="384" cy="413" rx="16" ry="23" fill="#3e3e3e"/>
<ellipse cx="440" cy="313" rx="18" ry="13" fill="#969696"/>
<ellipse cx="421" cy="341" rx="14" ry="11" fill="#969696"/>
<ellipse cx="411" cy="382" rx="18" ry="11" fill="#919191"/>
<ellipse cx="500" cy="322" rx="22" ry="7" fill="#969696"/>
<ellipse cx="590" cy="371" rx="27" ry="17" fill="#646464"/>
<ellipse cx="545" cy="356" rx="22" ry="10" fill="#767676"/>
<ellipse cx="664" cy="284" rx="12" ry="10" fill="#828282"/>
<ellipse cx="478" cy="352" rx="12" ry="12" fill="#464646"/>
</g>
<g filter="url(#bl)">
<ellipse cx="431.6" cy="291.4" rx="5.15" ry="5.15" fill="url(#g150)"/>
<ellipse cx="425.3" cy="305.8" rx="4.48" ry="4.48" fill="url(#g150)"/>
<ellipse cx="459.3" cy="307.4" rx="4.03" ry="4.03" fill="url(#g150)"/>
<ellipse cx="441.9" cy="328.2" rx="5.6" ry="5.6" fill="url(#g150)"/>
<ellipse cx="412.9" cy="337.3" rx="4.59" ry="4.59" fill="url(#g150)"/>
<ellipse cx="378.9" cy="381" rx="6.5" ry="6.5" fill="url(#g150)"/>
<ellipse cx="418.7" cy="329.5" rx="6.5" ry="5.6" fill="url(#g140)"/>
<ellipse cx="426.2" cy="297.5" rx="5.6" ry="5.6" fill="url(#g140)"/>
<ellipse cx="432.8" cy="317.4" rx="4.03" ry="4.03" fill="url(#g140)"/>
<ellipse cx="451.8" cy="332.3" rx="5.15" ry="5.15" fill="url(#g140)"/>
<ellipse cx="404.6" cy="360.5" rx="4.48" ry="4.48" fill="url(#g140)"/>
<ellipse cx="403.8" cy="366.1" rx="7.39" ry="7.39" fill="url(#g140)"/>
<ellipse cx="394.7" cy="384.3" rx="7.39" ry="7.39" fill="url(#g140)"/>
<ellipse cx="422.8" cy="398.4" rx="8.4" ry="8.4" fill="url(#g140)"/>
<ellipse cx="404.6" cy="415" rx="4.03" ry="4.03" fill="url(#g140)"/>
<ellipse cx="498" cy="330.6" rx="5.6" ry="5.6" fill="url(#g140)"/>
<ellipse cx="494.7" cy="338.1" rx="5.6" ry="5.6" fill="url(#g140)"/>
<ellipse cx="541.9" cy="348" rx="7.39" ry="7.39" fill="url(#g140)"/>
<ellipse cx="673.4" cy="298.3" rx="4.59" ry="4.59" fill="url(#g140)"/>
<ellipse cx="444.4" cy="309.1" rx="5.6" ry="5.6" fill="url(#g140)"/>
<ellipse cx="470" cy="323.2" rx="6.5" ry="6.5" fill="url(#g140)"/>
<ellipse cx="428.6" cy="337.3" rx="8.96" ry="7.84" fill="url(#g140)"/>
<ellipse cx="410.4" cy="351.3" rx="6.5" ry="5.6" fill="url(#g140)"/>
<ellipse cx="432.8" cy="393.4" rx="5.6" ry="5.6" fill="url(#g140)"/>
<ellipse cx="409.6" cy="396.7" rx="4.48" ry="4.48" fill="url(#g140)"/>
<ellipse cx="407.1" cy="408.3" rx="6.5" ry="6.5" fill="url(#g140)"/>
<ellipse cx="575" cy="334.8" rx="6.5" ry="6.5" fill="url(#g140)"/>
<ellipse cx="663.4" cy="278.4" rx="11.2" ry="8.4" fill="url(#g140)"/>
<ellipse cx="612.9" cy="393.4" rx="5.6" ry="5.6" fill="url(#g140)"/>
<ellipse cx="436.9" cy="302.5" rx="7.28" ry="7.28" fill="url(#g130)"/>
<ellipse cx="475" cy="313.2" rx="7.39" ry="7.39" fill="url(#g130)"/>
<ellipse cx="423.7" cy="346.4" rx="10.08" ry="8.96" fill="url(#g130)"/>
<ellipse cx="389.7" cy="367.7" rx="8.4" ry="8.4" fill="url(#g130)"/>
<ellipse cx="470" cy="433.2" rx="5.6" ry="5.6" fill="url(#g130)"/>
<ellipse cx="510.4" cy="331.5" rx="6.5" ry="6.5" fill="url(#g130)"/>
<ellipse cx="568.4" cy="351.3" rx="6.5" ry="6.5" fill="url(#g130)"/>
<ellipse cx="671.7" cy="285.1" rx="7.39" ry="7.39" fill="url(#g130)"/>
<ellipse cx="617" cy="305" rx="5.6" ry="5.6" fill="url(#g130)"/>
<ellipse cx="578.9" cy="334.8" rx="8.4" ry="8.4" fill="url(#g130)"/>
<ellipse cx="615.4" cy="335.6" rx="8.4" ry="8.4" fill="url(#g130)"/>
<ellipse cx="575" cy="381.8" rx="6.5" ry="6.5" fill="url(#g130)"/>
<ellipse cx="603.8" cy="395.9" rx="3.36" ry="3.36" fill="url(#g130)"/>
<ellipse cx="456" cy="318.2" rx="11.2" ry="10.08" fill="url(#g120)"/>
<ellipse cx="468.4" cy="333.1" rx="7.39" ry="7.39" fill="url(#g120)"/>
<ellipse cx="432.8" cy="371.9" rx="4.48" ry="4.48" fill="url(#g120)"/>
<ellipse cx="538.6" cy="267.7" rx="9.3" ry="6.5" fill="url(#g120)"/>
<ellipse cx="530.3" cy="292.5" rx="8.4" ry="8.4" fill="url(#g120)"/>
<ellipse cx="536.1" cy="328.2" rx="7.39" ry="7.39" fill="url(#g120)"/>
<ellipse cx="474.8" cy="314.9" rx="7.39" ry="7.39" fill="url(#g120)"/>
<ellipse cx="500.5" cy="314.9" rx="7.39" ry="7.39" fill="url(#g120)"/>
<ellipse cx="546.9" cy="334.8" rx="7.39" ry="7.39" fill="url(#g120)"/>
<ellipse cx="548" cy="306" rx="6.72" ry="6.72" fill="url(#g120)"/>
<ellipse cx="643.6" cy="290" rx="8.4" ry="8.4" fill="url(#g120)"/>
<ellipse cx="655.2" cy="300" rx="12.99" ry="9.3" fill="url(#g120)"/>
<ellipse cx="622" cy="319" rx="3.36" ry="3.36" fill="url(#g120)"/>
<ellipse cx="585.6" cy="324.8" rx="9.3" ry="9.3" fill="url(#g120)"/>
<ellipse cx="607.1" cy="356.3" rx="8.4" ry="8.4" fill="url(#g120)"/>
<ellipse cx="570.7" cy="353" rx="6.5" ry="6.5" fill="url(#g120)"/>
<ellipse cx="485.6" cy="381.8" rx="7.39" ry="7.39" fill="url(#g120)"/>
<ellipse cx="541.9" cy="361.9" rx="12.99" ry="10.08" fill="url(#g120)"/>
<ellipse cx="518.7" cy="403.4" rx="4.59" ry="4.59" fill="url(#g120)"/>
<ellipse cx="500.5" cy="438.2" rx="6.5" ry="6.5" fill="url(#g120)"/>
<ellipse cx="483.9" cy="446.4" rx="5.6" ry="5.6" fill="url(#g120)"/>
<ellipse cx="606.3" cy="357.8" rx="10.08" ry="5.6" fill="url(#g120)"/>
<ellipse cx="611.2" cy="374.4" rx="10.08" ry="6.5" fill="url(#g120)"/>
<ellipse cx="602.1" cy="388.4" rx="8.4" ry="8.4" fill="url(#g120)"/>
<ellipse cx="572.3" cy="383.5" rx="5.6" ry="5.6" fill="url(#g120)"/>
<ellipse cx="415.4" cy="383.5" rx="12.1" ry="11.2" fill="url(#g120)"/>
<ellipse cx="398.8" cy="390.1" rx="4.59" ry="4.59" fill="url(#g120)"/>
<ellipse cx="448.5" cy="417.4" rx="4.59" ry="4.59" fill="url(#g120)"/>
<ellipse cx="461.8" cy="424.9" rx="7.39" ry="7.39" fill="url(#g120)"/>
<ellipse cx="558.5" cy="265.2" rx="9.3" ry="5.6" fill="url(#g120)"/>
<ellipse cx="545.2" cy="298.3" rx="7.39" ry="7.39" fill="url(#g120)"/>
<ellipse cx="625.3" cy="291.7" rx="9.3" ry="9.3" fill="url(#g120)"/>
<ellipse cx="617" cy="325.7" rx="7.39" ry="7.39" fill="url(#g120)"/>
<ellipse cx="600.5" cy="319.9" rx="7.39" ry="7.39" fill="url(#g120)"/>
<ellipse cx="485.6" cy="426.6" rx="7.39" ry="7.39" fill="url(#g120)"/>
<ellipse cx="528.6" cy="433.2" rx="5.6" ry="5.6" fill="url(#g120)"/>
<ellipse cx="604.6" cy="367.7" rx="12.1" ry="5.15" fill="url(#g120)"/>
<ellipse cx="438.6" cy="314.9" rx="5.94" ry="5.94" fill="url(#g120)"/>
<ellipse cx="417" cy="373.5" rx="7.39" ry="7.39" fill="url(#g120)"/>
<ellipse cx="451.8" cy="413.3" rx="7.39" ry="7.39" fill="url(#g120)"/>
<ellipse cx="570" cy="276.8" rx="7.39" ry="7.39" fill="url(#g120)"/>
<ellipse cx="506.3" cy="321.5" rx="5.6" ry="5.6" fill="url(#g120)"/>
<ellipse cx="520.4" cy="324.8" rx="7.39" ry="7.39" fill="url(#g120)"/>
<ellipse cx="598.8" cy="338.1" rx="9.3" ry="9.3" fill="url(#g120)"/>
<ellipse cx="571.7" cy="366.9" rx="8.4" ry="8.4" fill="url(#g120)"/>
<ellipse cx="580.6" cy="383.5" rx="7.39" ry="7.39" fill="url(#g120)"/>
<ellipse cx="443.6" cy="376.9" rx="6.5" ry="6.5" fill="url(#g110)"/>
<ellipse cx="476.7" cy="429.9" rx="6.5" ry="6.5" fill="url(#g110)"/>
<ellipse cx="492.2" cy="321.5" rx="5.6" ry="5.6" fill="url(#g110)"/>
<ellipse cx="550" cy="278" rx="10.08" ry="8.96" fill="url(#g110)"/>
<ellipse cx="641.9" cy="308.3" rx="7.39" ry="7.39" fill="url(#g110)"/>
<ellipse cx="659.3" cy="312.4" rx="7.39" ry="7.39" fill="url(#g110)"/>
<ellipse cx="587.2" cy="356.3" rx="8.4" ry="8.4" fill="url(#g110)"/>
<ellipse cx="482.3" cy="360.3" rx="9.3" ry="9.3" fill="url(#g110)"/>
<ellipse cx="477.3" cy="387.6" rx="4.03" ry="4.03" fill="url(#g110)"/>
<ellipse cx="523.7" cy="353.7" rx="7.39" ry="7.39" fill="url(#g110)"/>
<ellipse cx="527" cy="415" rx="10.08" ry="10.08" fill="url(#g110)"/>
<ellipse cx="492.2" cy="436.5" rx="6.5" ry="6.5" fill="url(#g110)"/>
<ellipse cx="517" cy="439" rx="5.6" ry="5.6" fill="url(#g110)"/>
<ellipse cx="472.3" cy="429.9" rx="5.6" ry="5.6" fill="url(#g110)"/>
<ellipse cx="588.9" cy="357" rx="10.08" ry="5.6" fill="url(#g110)"/>
<ellipse cx="571.7" cy="295" rx="9.3" ry="9.3" fill="url(#g100)"/>
<ellipse cx="535.3" cy="313.2" rx="9.3" ry="12.1" fill="url(#g100)"/>
<ellipse cx="510.4" cy="405" rx="6.5" ry="6.5" fill="url(#g100)"/>
<ellipse cx="478.9" cy="434.8" rx="8.4" ry="8.4" fill="url(#g100)"/>
<ellipse cx="434.4" cy="352.2" rx="5.6" ry="5.6" fill="url(#g100)"/>
<ellipse cx="393" cy="429" rx="4.59" ry="4.59" fill="url(#g100)"/>
<ellipse cx="385.6" cy="424.9" rx="6.5" ry="6.5" fill="url(#g100)"/>
<ellipse cx="475" cy="362" rx="7.39" ry="7.39" fill="url(#g100)"/>
<ellipse cx="458" cy="381" rx="8.96" ry="7.84" fill="url(#g100)"/>
<ellipse cx="561.8" cy="275.1" rx="9.3" ry="9.3" fill="url(#g100)"/>
<ellipse cx="538.6" cy="280.1" rx="9.3" ry="6.5" fill="url(#g100)"/>
<ellipse cx="563.4" cy="313.2" rx="10.08" ry="10.08" fill="url(#g100)"/>
<ellipse cx="472.3" cy="331.5" rx="5.6" ry="5.6" fill="url(#g100)"/>
<ellipse cx="523.7" cy="351.3" rx="11.2" ry="6.5" fill="url(#g100)"/>
<ellipse cx="555.1" cy="353" rx="7.39" ry="7.39" fill="url(#g100)"/>
<ellipse cx="635.3" cy="319" rx="7.39" ry="7.39" fill="url(#g100)"/>
<ellipse cx="590.5" cy="343.1" rx="7.39" ry="7.39" fill="url(#g100)"/>
<ellipse cx="556.8" cy="355.3" rx="5.6" ry="5.6" fill="url(#g100)"/>
<ellipse cx="488.9" cy="400" rx="7.39" ry="7.39" fill="url(#g100)"/>
<ellipse cx="512.1" cy="431.5" rx="8.4" ry="8.4" fill="url(#g100)"/>
<ellipse cx="577.3" cy="367.7" rx="11.2" ry="7.39" fill="url(#g100)"/>
<ellipse cx="446.9" cy="356.3" rx="8.4" ry="8.4" fill="url(#g100)"/>
<ellipse cx="378.9" cy="406.7" rx="8.4" ry="8.4" fill="url(#g100)"/>
<ellipse cx="468.4" cy="396.7" rx="11.2" ry="11.2" fill="url(#g100)"/>
<ellipse cx="500.5" cy="403.4" rx="6.5" ry="6.5" fill="url(#g100)"/>
<ellipse cx="465" cy="351.3" rx="11.2" ry="11.2" fill="url(#g90)"/>
<ellipse cx="393.9" cy="405" rx="7.39" ry="7.39" fill="url(#g90)"/>
<ellipse cx="375.6" cy="421.6" rx="7.39" ry="7.39" fill="url(#g90)"/>
<ellipse cx="461.8" cy="365.3" rx="12.99" ry="12.32" fill="url(#g90)"/>
<ellipse cx="456" cy="403" rx="7.84" ry="6.72" fill="url(#g90)"/>
<ellipse cx="577.3" cy="293.4" rx="7.39" ry="7.39" fill="url(#g90)"/>
<ellipse cx="607.1" cy="308.3" rx="7.39" ry="7.39" fill="url(#g90)"/>
<ellipse cx="503.8" cy="413.3" rx="7.39" ry="7.39" fill="url(#g90)"/>
<ellipse cx="498.8" cy="423.2" rx="8.4" ry="8.4" fill="url(#g90)"/>
<ellipse cx="536.9" cy="428.2" rx="5.15" ry="5.15" fill="url(#g90)"/>
<ellipse cx="427" cy="367.7" rx="6.5" ry="6.5" fill="url(#g90)"/>
<ellipse cx="378.9" cy="431.5" rx="6.5" ry="6.5" fill="url(#g90)"/>
<ellipse cx="471.7" cy="415" rx="7.39" ry="7.39" fill="url(#g90)"/>
<ellipse cx="488.9" cy="315.7" rx="5.15" ry="5.15" fill="url(#g90)"/>
<ellipse cx="580.6" cy="310.8" rx="9.3" ry="9.3" fill="url(#g90)"/>
<ellipse cx="627" cy="309.9" rx="6.5" ry="6.5" fill="url(#g90)"/>
<ellipse cx="475.6" cy="400" rx="9.3" ry="9.3" fill="url(#g90)"/>
<ellipse cx="600.5" cy="377.7" rx="5.6" ry="5.6" fill="url(#g90)"/>
<ellipse cx="387.2" cy="416.6" rx="9.3" ry="9.3" fill="url(#g80)"/>
<ellipse cx="446.9" cy="396.7" rx="5.6" ry="5.6" fill="url(#g80)"/>
<ellipse cx="575" cy="308.3" rx="5.6" ry="5.6" fill="url(#g80)"/>
<ellipse cx="595" cy="305" rx="8.96" ry="7.84" fill="url(#g80)"/>
<ellipse cx="395.5" cy="416.6" rx="4.59" ry="4.59" fill="url(#g80)"/>
<ellipse cx="553.5" cy="339.7" rx="7.39" ry="5.6" fill="url(#g80)"/>
<ellipse cx="478.9" cy="351.3" rx="12.1" ry="12.1" fill="url(#g80)"/>
<ellipse cx="474" cy="372.7" rx="8.4" ry="8.4" fill="url(#g80)"/>
<ellipse cx="384.7" cy="393.4" rx="7.39" ry="4.59" fill="url(#g70)"/>
<ellipse cx="461.8" cy="411.6" rx="6.5" ry="6.5" fill="url(#g70)"/>
<ellipse cx="548.5" cy="272.6" rx="4.03" ry="4.03" fill="url(#g70)"/>
<ellipse cx="568.4" cy="305" rx="4.59" ry="4.59" fill="url(#g70)"/>
<ellipse cx="636.1" cy="294.2" rx="4.59" ry="4.59" fill="url(#g70)"/>
<ellipse cx="475.6" cy="416.6" rx="7.39" ry="7.39" fill="url(#g70)"/>
<ellipse cx="553.5" cy="288.4" rx="6.5" ry="4.59" fill="url(#g70)"/>
<ellipse cx="522" cy="427.4" rx="4.03" ry="4.03" fill="url(#g70)"/>
<ellipse cx="588" cy="376.9" rx="4.03" ry="4.03" fill="url(#g70)"/>
<ellipse cx="590.5" cy="298.3" rx="11.2" ry="8.4" fill="url(#g60)"/>
<ellipse cx="566.7" cy="378.5" rx="7.39" ry="5.6" fill="url(#g60)"/>
<ellipse cx="604.6" cy="296.7" rx="8.4" ry="8.4" fill="url(#g60)"/>
<ellipse cx="454.3" cy="342.2" rx="15.68" ry="6.5" fill="url(#g50)"/>
<ellipse cx="617" cy="344.7" rx="8.4" ry="5.6" fill="url(#g50)" transform="rotate(35 617 344.7)"/>
<ellipse cx="603" cy="377.7" rx="2.8" ry="2.8" fill="url(#g50)"/>
<ellipse cx="592.2" cy="386.8" rx="4.59" ry="4.59" fill="url(#g50)"/>
<ellipse cx="453.5" cy="394.2" rx="9.3" ry="6.5" fill="url(#g50)"/>
<ellipse cx="528.6" cy="342.2" rx="8.4" ry="4.59" fill="url(#g40)"/>
<ellipse cx="576.7" cy="346.4" rx="4.59" ry="4.59" fill="url(#g40)"/>
<ellipse cx="578.9" cy="347.2" rx="7.39" ry="4.59" fill="url(#g40)"/>
<ellipse cx="488.9" cy="412.5" rx="5.6" ry="5.6" fill="url(#g40)"/>
<ellipse cx="660.1" cy="290" rx="4.03" ry="4.03" fill="url(#g40)"/>
<ellipse cx="651" cy="318.2" rx="5.6" ry="5.6" fill="url(#g40)"/>
<ellipse cx="468.4" cy="376.9" rx="8.4" ry="4.59" fill="url(#g30)"/>
<ellipse cx="450.2" cy="366.9" rx="7.39" ry="7.39" fill="url(#g30)"/>
<ellipse cx="611.2" cy="321.5" rx="5.15" ry="5.15" fill="url(#g30)"/>
</g>
<g filter="url(#bl2)">
<ellipse cx="550" cy="278" rx="17.6" ry="12.8" fill="#000" fill-opacity="0.06"/>
<ellipse cx="590" cy="301" rx="22.4" ry="12" fill="#000" fill-opacity="0.13"/>
<ellipse cx="641" cy="301" rx="21.6" ry="11.2" fill="#000" fill-opacity="0.06"/>
<ellipse cx="540" cy="312" rx="9.6" ry="14.4" fill="#000" fill-opacity="0.02"/>
<ellipse cx="592" cy="340" rx="24" ry="13.6" fill="#000" fill-opacity="0.06"/>
<ellipse cx="458" cy="350" rx="20" ry="15.2" fill="#000" fill-opacity="0.13"/>
<ellipse cx="461" cy="392" rx="16" ry="25.6" fill="#000" fill-opacity="0.13"/>
<ellipse cx="498" cy="417" rx="27.2" ry="17.6" fill="#000" fill-opacity="0.13"/>
<ellipse cx="384" cy="413" rx="12.8" ry="18.4" fill="#000" fill-opacity="0.13"/>
<ellipse cx="440" cy="313" rx="14.4" ry="10.4" fill="#000" fill-opacity="0.02"/>
<ellipse cx="421" cy="341" rx="11.2" ry="8.8" fill="#000" fill-opacity="0.02"/>
<ellipse cx="411" cy="382" rx="14.4" ry="8.8" fill="#000" fill-opacity="0.02"/>
<ellipse cx="500" cy="322" rx="17.6" ry="5.6" fill="#000" fill-opacity="0.02"/>
<ellipse cx="590" cy="371" rx="21.6" ry="13.6" fill="#000" fill-opacity="0.06"/>
<ellipse cx="545" cy="356" rx="17.6" ry="8" fill="#000" fill-opacity="0.02"/>
<ellipse cx="664" cy="284" rx="9.6" ry="8" fill="#000" fill-opacity="0.02"/>
<ellipse cx="478" cy="352" rx="9.6" ry="9.6" fill="#000" fill-opacity="0.13"/>
</g>
</g></g>
<line x1="390.7" y1="460.9" x2="479.2" y2="460.9" stroke="#111" stroke-width="1.6"/>
<text x="391.2" y="457" font-size="15" textLength="35.8" lengthAdjust="spacingAndGlyphs" fill="#111" font-family="'DejaVu Sans', 'Liberation Sans', sans-serif" stroke="#111" stroke-width="0.42">100</text>
<text x="441.5" y="457" font-size="15" textLength="23.8" lengthAdjust="spacingAndGlyphs" fill="#111" font-family="'DejaVu Sans Mono', 'Liberation Mono', monospace" stroke="#111" stroke-width="0.42">nm</text>
<rect x="370.1" y="243.5" width="307.1" height="234.2" fill="none" stroke="#000" stroke-width="2.8"/>
<text x="346.6" y="257.1" font-size="18.5" font-weight="bold">d)</text>
</g>
</svg>
</body></html>
